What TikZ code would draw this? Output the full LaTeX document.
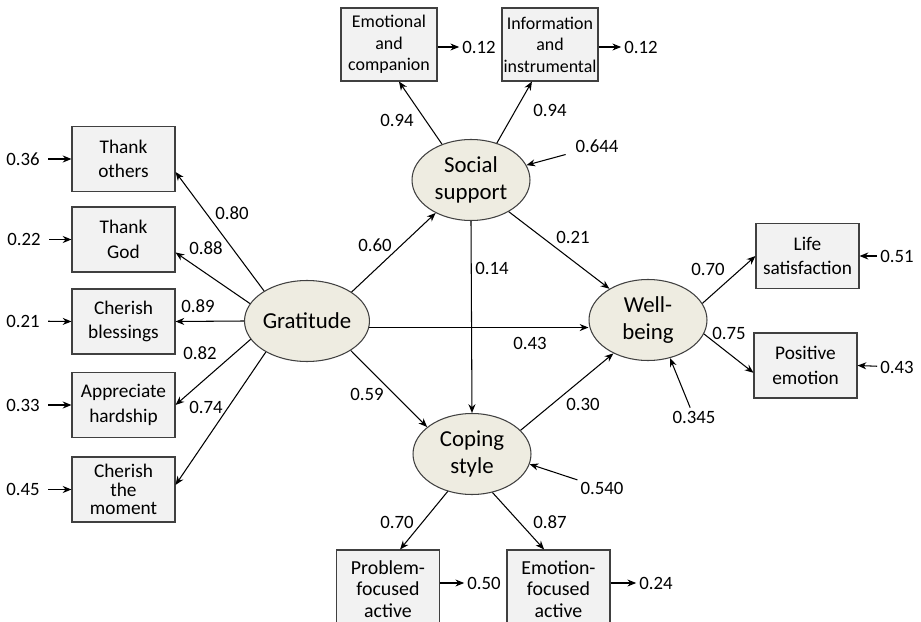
\documentclass[tikz,border=0pt]{standalone}
\usepackage{fontspec}
\setmainfont{Carlito}
\usetikzlibrary{shapes.geometric,arrows.meta}
\definecolor{latfill}{RGB}{238,236,225}
\definecolor{boxfill}{RGB}{242,242,242}
\definecolor{edgegray}{RGB}{64,64,64}

\begin{document}
\begin{tikzpicture}[x=0.02cm,y=-0.02cm,>={Stealth[length=5pt,width=4pt]},line width=0.6pt,
  latent/.style={ellipse, draw=edgegray, fill=latfill, minimum width=2.36cm, minimum height=1.62cm, inner sep=0pt, align=center, font=\fontsize{13}{15.3}\selectfont},
  box/.style={draw=edgegray, fill=boxfill, minimum width=2.06cm, minimum height=1.3cm, inner sep=0pt, align=center, font=\fontsize{11}{14}\selectfont},
  topbox/.style={box, minimum width=1.92cm, minimum height=1.46cm, font=\fontsize{10.2}{12.3}\selectfont},
  lowbox/.style={box, minimum height=1.56cm, font=\fontsize{11.3}{12.2}\selectfont},
  num/.style={inner sep=1.5pt, font=\fontsize{10.7}{13}\selectfont}]
  \useasboundingbox (0,0) rectangle (921,622);
  \clip (0,0) rectangle (921,622);

  % latent variables
  \node[latent] (grat) at (307,321) {Gratitude};
  \node[latent] (social) at (471,180) {Social\\support};
  \node[latent] (coping) at (472,454) {Coping\\style};
  \node[latent] (wb) at (648,320) {Well-\\being};

  % gratitude indicators
  \node[box] (others) at (123.5,159) {Thank\\others};
  \node[box] (god) at (123.5,239.5) {Thank\\God};
  \node[box] (bless) at (123.5,321.5) {Cherish\\blessings};
  \node[box] (hard) at (123.5,405) {Appreciate\\hardship};
  \node[box, font=\fontsize{11}{10.5}\selectfont] (moment) at (123.5,489.5) {Cherish\\the\\moment};

  % social support indicators
  \node[topbox] (emo) at (389,44.5) {Emotional\\and\\companion};
  \node[topbox] (info) at (550,44.5) {Information\\and\\instrumental};

  % coping indicators
  \node[lowbox] (prob) at (388,589) {Problem-\\focused\\active};
  \node[lowbox] (emof) at (558.5,589) {Emotion-\\focused\\active};

  % well-being indicators
  \node[box] (life) at (807.5,256) {Life\\satisfaction};
  \node[box] (pos) at (805.5,365.5) {Positive\\emotion};

  % residuals
  \node[num] (r-others) at (23,159) {0.36};
  \node[num] (r-god) at (24,239.5) {0.22};
  \node[num] (r-bless) at (23,321) {0.21};
  \node[num] (r-hard) at (23,405) {0.33};
  \node[num] (r-moment) at (23,489.5) {0.45};
  \node[num] (r-emo) at (479,47) {0.12};
  \node[num] (r-info) at (641,47) {0.12};
  \node[num] (r-prob) at (484,583) {0.50};
  \node[num] (r-emof) at (656,583) {0.24};
  \node[num] (r-life) at (897,256) {0.51};
  \node[num] (r-pos) at (897,367) {0.43};
  \node[num] (r-social) at (597,146) {0.644};
  \node[num] (r-coping) at (602,488) {0.540};
  \node[num] (r-wb) at (694,417) {0.345};

  \draw[->, shorten <=3pt] (r-others) -- (others.west);
  \draw[->, shorten <=3pt] (r-god) -- (god.west);
  \draw[->, shorten <=3pt] (r-bless) -- (bless.west);
  \draw[->, shorten <=3pt] (r-hard) -- (hard.west);
  \draw[->, shorten <=3pt] (r-moment) -- (moment.west);
  \draw[->] (emo.east |- r-emo) -- (r-emo);
  \draw[->] (info.east |- r-info) -- (r-info);
  \draw[->] (prob.east |- r-prob) -- (r-prob);
  \draw[->] (emof.east |- r-emof) -- (r-emof);
  \draw[->] (r-life) -- (life.east);
  \draw[->] (r-pos) -- (pos.east);
  \draw[->, shorten <=4pt] (r-social) -- (social.15);
  \draw[->] (r-coping) -- (coping.-10);
  \draw[->] (r-wb) -- (wb.-60);

  % loadings
  \draw[->] (grat.145) -- (others.-14);
  \draw[->] (grat.163) -- (god.-14);
  \draw[->] (grat.west) -- (bless.east);
  \draw[->] (grat.198) -- (hard.east);
  \draw[->] (grat.217) -- (moment.5);
  \draw[->] (social.129) -- (emo.-75);
  \draw[->] (social.55) -- (info.244);
  \draw[->] (coping.237) -- (prob.73);
  \draw[->] (coping.-62) -- (emof.110);
  \draw[->] (wb.17) -- (life.west);
  \draw[->] (wb.-14) -- (pos.188);

  % structural paths
  \draw[->] (grat.33) -- (social.223);
  \draw[->] (grat.-34) -- (coping.149);
  \draw[->] (grat.-6) -- (grat.-6 -| wb.west);
  \draw[->] (social.south) -- (coping.north);
  \draw[->] (social.-40) -- (wb.141);
  \draw[->] (coping.26) -- (wb.224);

  % coefficients
  \node[num] (c-others) at (232,213) {0.80};
  \node[num] (c-god) at (206,248) {0.88};
  \node[num] (c-bless) at (198,306) {0.89};
  \node[num] (c-hard) at (200,353) {0.82};
  \node[num] (c-moment) at (206,407) {0.74};
  \node[num] (c-emo) at (397,120) {0.94};
  \node[num] (c-info) at (550,110) {0.94};
  \node[num] (c-gs) at (375,245) {0.60};
  \node[num] (c-sc) at (492,268) {0.14};
  \node[num] (c-sw) at (573,237) {0.21};
  \node[num] (c-gw) at (530,343) {0.43};
  \node[num] (c-gc) at (367,394) {0.59};
  \node[num] (c-cw) at (583,404) {0.30};
  \node[num] (c-prob) at (397,522) {0.70};
  \node[num] (c-emof) at (550,522) {0.87};
  \node[num] (c-life) at (708,269) {0.70};
  \node[num] (c-pos) at (729,333) {0.75};
\end{tikzpicture}
\end{document}
